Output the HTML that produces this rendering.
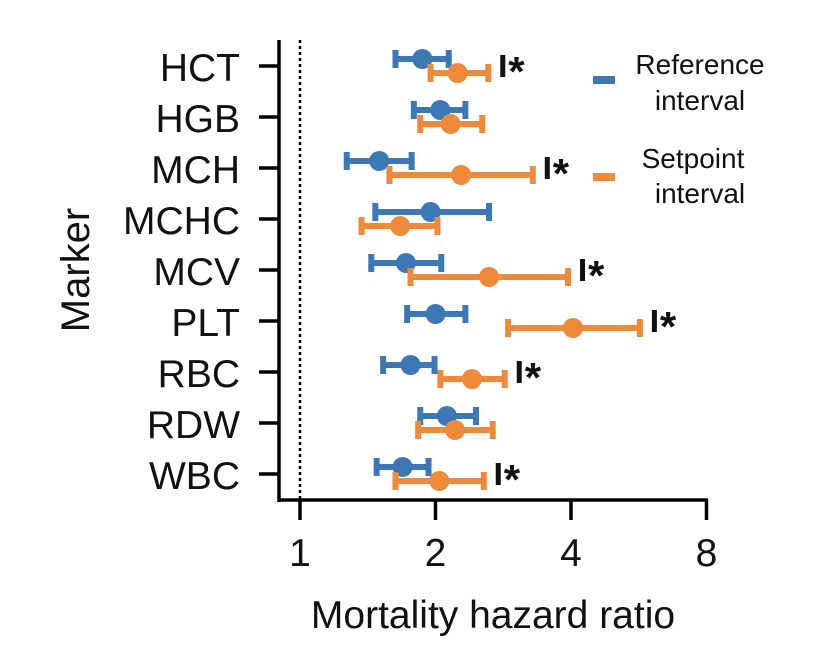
<!DOCTYPE html>
<html><head><meta charset="utf-8"><style>
html,body{margin:0;padding:0;background:#fff;}
svg{display:block;font-family:"Liberation Sans",Arial,sans-serif;}
</style></head><body>
<svg id="chart" width="820" height="672" viewBox="0 0 820 672"></svg>
<script>
const markers=["HCT","HGB","MCH","MCHC","MCV","PLT","RBC","RDW","WBC"];
const refEst=[1.87,2.05,1.50,1.95,1.72,2.00,1.76,2.12,1.69];
const refLo=[1.63,1.79,1.27,1.47,1.44,1.73,1.53,1.85,1.48];
const refHi=[2.14,2.33,1.77,2.63,2.06,2.33,1.99,2.46,1.93];
const setEst=[2.24,2.16,2.28,1.67,2.63,4.04,2.41,2.21,2.04];
const setLo=[1.95,1.85,1.58,1.37,1.76,2.90,2.05,1.83,1.63];
const setHi=[2.62,2.54,3.29,2.02,3.94,5.69,2.85,2.68,2.56];
const significant=[true,false,true,false,true,true,true,false,true];
const xTicks=[1,2,4,8];

const NS="http://www.w3.org/2000/svg";
const svg=document.getElementById('chart');
const BLUE="#3b78b5",ORANGE="#ee8a3a";
function xs(v){return 300+135.5*Math.log2(v);}
function ys(i){return 66+51*i;}
function mk(tag,attrs,parent){const e=document.createElementNS(NS,tag);for(const k in attrs)e.setAttribute(k,attrs[k]);(parent||svg).appendChild(e);return e;}

let el=mk('line',{x1:279,y1:40,x2:279,y2:502,stroke:'#000','stroke-width':3.5});


el=mk('line',{x1:277.5,y1:500,x2:708,y2:500,stroke:'#000','stroke-width':3.5});


el=mk('line',{x1:xs(1),y1:40,x2:xs(1),y2:500,stroke:'#000','stroke-width':2.5,'stroke-dasharray':'3,3'});



xTicks.forEach(t=>{
  const l=mk('line',{x1:xs(t),y1:500,x2:xs(t),y2:520,stroke:'#000','stroke-width':3.5});
  
  
  const tx=mk('text',{x:xs(t),y:566,'text-anchor':'middle','font-size':39,fill:'#111'});
  tx.textContent=t;
  
  
});

markers.forEach((m,i)=>{
  const y=ys(i);
  const l=mk('line',{x1:259,y1:y,x2:279,y2:y,stroke:'#000','stroke-width':3.5});
  
  
  const t=mk('text',{x:240,y:y+15,'text-anchor':'end','font-size':39,fill:'#111'});
  t.textContent=m;
  
  
  [[refEst,refLo,refHi,BLUE,-7,'reference'],[setEst,setLo,setHi,ORANGE,7,'setpoint']].forEach(s=>{
    const yy=y+s[4];
    const g=mk('g',{});
    
    
    mk('line',{x1:xs(s[1][i]),y1:yy,x2:xs(s[2][i]),y2:yy,stroke:s[3],'stroke-width':6},g);
    mk('line',{x1:xs(s[1][i]),y1:yy-9,x2:xs(s[1][i]),y2:yy+9,stroke:s[3],'stroke-width':6},g);
    mk('line',{x1:xs(s[2][i]),y1:yy-9,x2:xs(s[2][i]),y2:yy+9,stroke:s[3],'stroke-width':6},g);
    mk('circle',{cx:xs(s[0][i]),cy:yy,r:10,fill:s[3]},g);
  });
  if(significant[i]){
    const x0=xs(Math.max(refHi[i],setHi[i]))+12;
    const b=mk('rect',{x:x0,y:y-11,width:5,height:22,fill:'#111'});
    
    
    const st=mk('text',{x:x0+8,y:y+20,'font-size':42,'font-weight':'bold',fill:'#111'});
    st.textContent='*';
    
    
  }
});

let lg=mk('rect',{x:593,y:76,width:22,height:8,fill:BLUE});


lg=mk('rect',{x:593,y:173,width:22,height:8,fill:ORANGE});


[["Reference",700,74],["interval",700,110],["Setpoint",693,168],["interval",700,203]].forEach(d=>{
  const t=mk('text',{x:d[1],y:d[2],'text-anchor':'middle','font-size':28,fill:'#111'});
  t.textContent=d[0];
  
  
});

let tt=mk('text',{x:493,y:628,'text-anchor':'middle','font-size':39,fill:'#111'});
tt.textContent='Mortality hazard ratio';


tt=mk('text',{x:0,y:0,'text-anchor':'middle','font-size':40,fill:'#111',transform:'translate(89,270) rotate(-90)'});
tt.textContent='Marker';


</script>
</body></html>
